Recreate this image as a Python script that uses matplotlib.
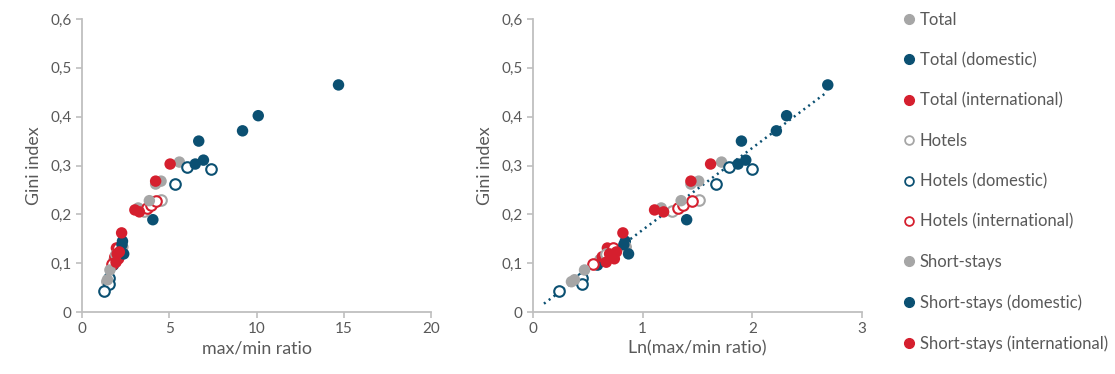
import numpy as np
import matplotlib
matplotlib.use("Agg")
import matplotlib.pyplot as plt
from matplotlib.lines import Line2D

plt.rcParams['font.family'] = ['Lato', 'DejaVu Sans']

# ---- data: (max/min ratio, Gini index) per series ----
total_ratio = [5.58, 4.22, 3.22, 1.84, 1.42]
total_gini = [0.307, 0.262, 0.213, 0.107, 0.062]

total_dom_ratio = [14.7, 9.2, 6.96, 4.06, 2.32, 1.80]
total_dom_gini = [0.465, 0.371, 0.311, 0.189, 0.145, 0.096]

total_int_ratio = [5.05, 3.03, 2.27, 1.97, 2.10, 1.88]
total_int_gini = [0.303, 0.209, 0.162, 0.131, 0.109, 0.113]

hotels_ratio = [3.56, 4.53, 1.95]
hotels_gini = [0.207, 0.229, 0.118]

hotels_dom_ratio = [7.39, 5.99, 5.31, 1.57, 1.57, 1.27]
hotels_dom_gini = [0.293, 0.297, 0.262, 0.070, 0.058, 0.044]

hotels_int_ratio = [3.74, 3.94, 4.26, 1.73, 2.08]
hotels_int_gini = [0.213, 0.219, 0.228, 0.098, 0.131]

short_ratio = [4.53, 3.86, 2.34, 1.60, 1.46]
short_gini = [0.268, 0.228, 0.133, 0.086, 0.066]

short_dom_ratio = [10.1, 6.69, 6.49, 2.29, 2.39]
short_dom_gini = [0.402, 0.350, 0.303, 0.138, 0.119]

short_int_ratio = [4.22, 3.29, 2.14, 1.95, 2.01]
short_int_gini = [0.268, 0.205, 0.123, 0.102, 0.119]

GRAY = '#A6A6A6'
BLUE = '#0B5072'
RED = '#D51F2E'
TXT = '#595959'
SPINE = '#BFBFBF'

series = [
    ('Total', total_ratio, total_gini, GRAY, True),
    ('Total (domestic)', total_dom_ratio, total_dom_gini, BLUE, True),
    ('Total (international)', total_int_ratio, total_int_gini, RED, True),
    ('Hotels', hotels_ratio, hotels_gini, GRAY, False),
    ('Hotels (domestic)', hotels_dom_ratio, hotels_dom_gini, BLUE, False),
    ('Hotels (international)', hotels_int_ratio, hotels_int_gini, RED, False),
    ('Short-stays', short_ratio, short_gini, GRAY, True),
    ('Short-stays (domestic)', short_dom_ratio, short_dom_gini, BLUE, True),
    ('Short-stays (international)', short_int_ratio, short_int_gini, RED, True),
]

fig = plt.figure(figsize=(11.15, 3.74), dpi=100)
W, H = 1115, 374
ax1 = fig.add_axes([82 / W, (374 - 312) / H, 349 / W, 293 / H])
ax2 = fig.add_axes([533 / W, (374 - 312) / H, 329 / W, 293 / H])

def style(ax, xlim, xticks, xlabel):
    ax.set_xlim(*xlim)
    ax.set_ylim(0, 0.6)
    ax.set_xticks(xticks)
    ax.set_xticklabels([str(t) for t in xticks])
    yt = [0, 0.1, 0.2, 0.3, 0.4, 0.5, 0.6]
    ax.set_yticks(yt)
    ax.set_yticklabels(['0'] + [('%.1f' % v).replace('.', ',') for v in yt[1:]])
    for s in ['top', 'right']:
        ax.spines[s].set_visible(False)
    for s in ['left', 'bottom']:
        ax.spines[s].set_color(SPINE)
        ax.spines[s].set_linewidth(1.3)
    ax.tick_params(axis='both', colors=SPINE, labelcolor=TXT, labelsize=11,
                   length=4, width=1.2, direction='out')
    ax.set_xlabel(xlabel, fontsize=12.8, color=TXT, labelpad=3)
    ax.set_ylabel('Gini index', fontsize=12.8, color=TXT, labelpad=6)

for name, r, g, col, filled in series:
    r = np.array(r)
    g = np.array(g)
    for ax, x in ((ax1, r), (ax2, np.log(r))):
        if filled:
            ax.scatter(x, g, s=68, color=col, edgecolors='none', zorder=3, clip_on=False)
        else:
            ax.scatter(x, g, s=58, facecolors='white', edgecolors=col, linewidths=1.5,
                       zorder=3, clip_on=False)

# linear trendline on ln scale, fitted on all points
all_x = np.concatenate([np.log(np.array(s[1])) for s in series])
all_y = np.concatenate([np.array(s[2]) for s in series])
slope, icpt = np.polyfit(all_x, all_y, 1)
xl = np.array([0.10, 2.68])
ax2.plot(xl, slope * xl + icpt, color=BLUE, lw=1.8, linestyle=(0, (0.8, 1.6)), zorder=2)

style(ax1, (0, 20), [0, 5, 10, 15, 20], 'max/min ratio')
style(ax2, (0, 3), [0, 1, 2, 3], 'Ln(max/min ratio)')

leg_handles = []
for name, r, g, col, filled in series:
    if filled:
        leg_handles.append(Line2D([], [], marker='o', linestyle='none', markersize=7,
                                  markerfacecolor=col, markeredgecolor=col))
    else:
        leg_handles.append(Line2D([], [], marker='o', linestyle='none', markersize=6.3,
                                  markerfacecolor='white', markeredgecolor=col, markeredgewidth=1.3))
leg = fig.legend(leg_handles, [s[0] for s in series], loc='upper left',
                 bbox_to_anchor=(893 / W, 1 - 5 / H), frameon=False, fontsize=12,
                 labelspacing=1.46, handletextpad=0.1, handlelength=1.1, borderaxespad=0)
for t in leg.get_texts():
    t.set_color(TXT)

fig.savefig('out.png', dpi=100)
